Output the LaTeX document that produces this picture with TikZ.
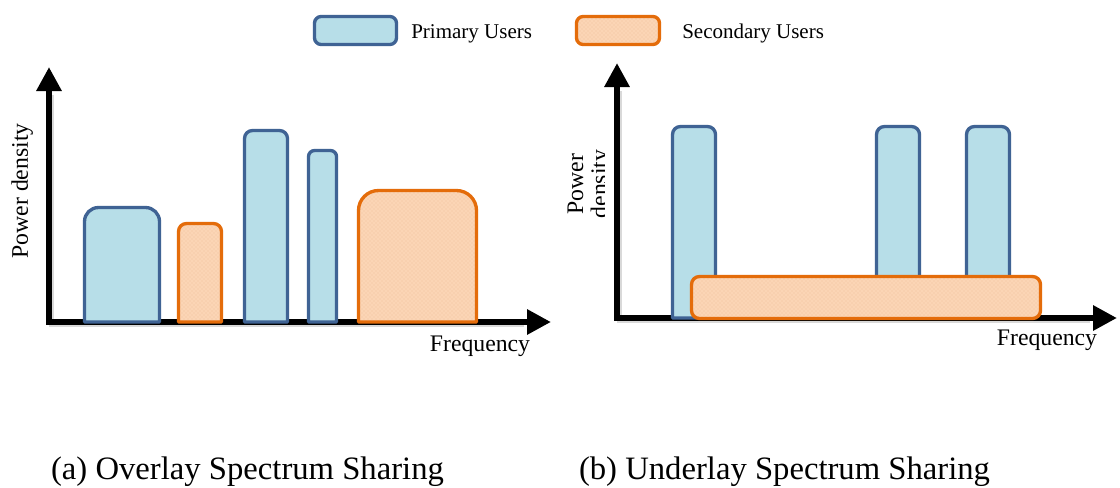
\documentclass[tikz,border=0pt]{standalone}
\usepackage{fontspec}
\setmainfont{Liberation Serif}
\usetikzlibrary{arrows.meta,patterns}
\definecolor{pufill}{HTML}{B7DEE8}
\definecolor{pubord}{HTML}{3F6394}
\definecolor{sufill}{HTML}{FBD5B5}
\definecolor{subord}{HTML}{E46C0A}
\definecolor{sudot}{HTML}{EFC29C}
\newcommand\tbar[6]{\path[#6] (#1,#4) -- (#1,#3-#5) arc[start angle=180,end angle=90,radius=#5] -- (#2-#5,#3) arc[start angle=90,end angle=0,radius=#5] -- (#2,#4) -- cycle;}
\tikzset{
  pu/.style={draw=pubord, fill=pufill, line width=2.5pt, line join=round},
  su/.style={fill=sufill, postaction={pattern=crosshatch dots, pattern color=sudot}, postaction={draw=subord, line width=2.5pt, line join=round}},
  axisline/.style={line width=4.5pt, line join=miter, {Triangle[length=18pt,width=18pt]}-{Triangle[length=18pt,width=18pt]}},
  axshadow/.style={line width=4pt, draw=black!15},
  legtxt/.style={font=\fontsize{15.75pt}{18pt}\selectfont, inner sep=0pt},
  axtxt/.style={font=\fontsize{17.8pt}{21pt}\selectfont, inner sep=0pt},
  captxt/.style={font=\fontsize{24.5pt}{29pt}\selectfont, inner sep=0pt}
}
\begin{document}
\begin{tikzpicture}[x=0.75pt,y=0.75pt]
\useasboundingbox (0,0) rectangle (1120,487);
\fill[white] (0,0) rectangle (1120,487);

% legend
\node[pu, rounded corners=5pt, minimum width=61.5pt, minimum height=21pt, inner sep=0pt] (lgpu) at (355.5,456.5) {};
\node[legtxt, anchor=west] (lgputxt) at (411,453.5) {Primary Users};
\node[su, rounded corners=5pt, minimum width=62.25pt, minimum height=21pt, inner sep=0pt] (lgsu) at (618,456.5) {};
\node[legtxt, anchor=west] (lgsutxt) at (682,453.5) {Secondary Users};

% ---------- (a) overlay ----------
\draw[axshadow] (51.5,392) -- (51.5,162.5) -- (524,162.5);
\draw[axisline] (49,420) -- (49,165) -- (551,165);
\tbar{84.5}{159.5}{279.5}{165}{14}{pu}
\tbar{178.5}{221.5}{263.5}{165}{8}{su}
\tbar{244.5}{287.5}{356.5}{165}{8}{pu}
\tbar{308.5}{336.5}{336.5}{165}{6}{pu}
\tbar{358.5}{476.5}{296.5}{165}{20}{su}
\node[axtxt, anchor=base] (fqa) at (480,136) {Frequency};
\node[axtxt, anchor=base, rotate=90] (pda) at (28,296) {Power density};

% ---------- (b) underlay ----------
\draw[axshadow] (619.5,396) -- (619.5,166.5) -- (1090,166.5);
\draw[axisline] (617,424) -- (617,169) -- (1117,169);
\tbar{672.5}{715.5}{360.5}{169}{8}{pu}
\tbar{876.5}{919.5}{360.5}{169}{8}{pu}
\tbar{966.5}{1009.5}{360.5}{169}{8}{pu}
\path[su, rounded corners=6pt] (691.5,168.5) rectangle (1040.5,210.5);
\node[axtxt, anchor=base] (fqb) at (1047,142) {Frequency};
\begin{scope}
  \clip (555,240) rectangle (604,360);
  \node[axtxt, anchor=base, rotate=90] (pdb1) at (583,303) {Power};
  \node[axtxt, anchor=base, rotate=90] (pdb2) at (607,303) {density};
\end{scope}

% captions
\node[captxt, anchor=base] (capa) at (247.5,8) {(a) Overlay Spectrum Sharing};
\node[captxt, anchor=base] (capb) at (784.5,8) {(b) Underlay Spectrum Sharing};
\end{tikzpicture}
\end{document}
